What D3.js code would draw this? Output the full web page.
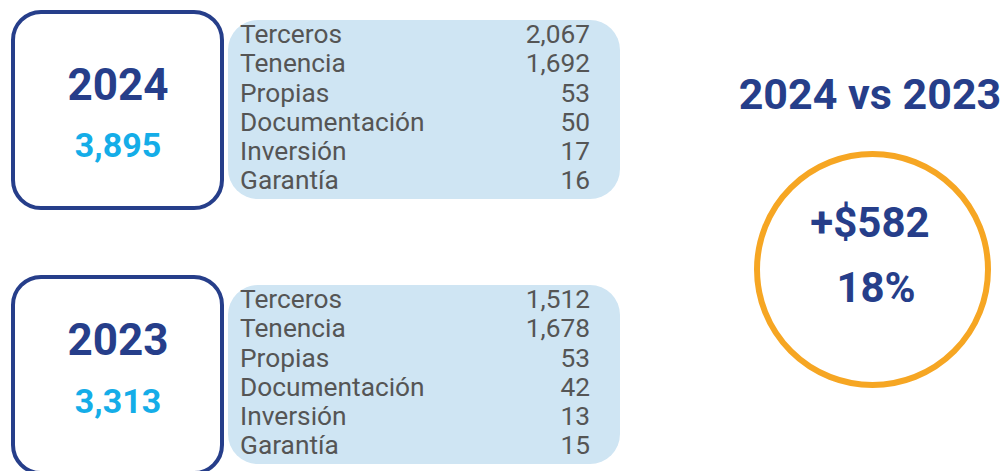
<!DOCTYPE html>
<html>
<head>
<meta charset="utf-8">
<script src="https://cdn.jsdelivr.net/npm/d3@7"></script>
<style>
  body { margin: 0; background: #fff; }
  svg { display: block; font-family: Roboto, "Noto Sans", sans-serif; }
</style>
</head>
<body>
<div class="chart"></div>
<script>
var svgWidth = 1003;
var svgHeight = 471;

// data
var categories = ["Terceros", "Tenencia", "Propias", "Documentación", "Inversión", "Garantía"];
var values2024 = [2067, 1692, 53, 50, 17, 16];
var values2023 = [1512, 1678, 53, 42, 13, 15];
var years = ["2024", "2023"];

var navy = "#263e8a";
var sky = "#14ade8";
var panelFill = "#cfe5f3";
var orange = "#f6a623";
var grey = "#555555";

var fmt = d3.format(",");

var svg = d3.select(".chart")
  .append("svg")
  .attr("width", svgWidth)
  .attr("height", svgHeight);

// one block per year: box with year + total, and a panel with the breakdown
var blocks = [
  { year: years[0], values: values2024, top: 10, yearBase: 100, totalBase: 157 },
  { year: years[1], values: values2023, top: 275, yearBase: 355, totalBase: 413 }
];

blocks.forEach(function (b) {
  var g = svg.append("g");

  // year box
  g.append("rect")
    .attr("x", 13)
    .attr("y", b.top + 2)
    .attr("width", 209)
    .attr("height", 196)
    .attr("rx", 28)
    .attr("fill", "#fff")
    .attr("stroke", navy)
    .attr("stroke-width", 4);

  g.append("text")
    .attr("x", 118)
    .attr("y", b.yearBase)
    .attr("text-anchor", "middle")
    .attr("font-size", "44px")
    .attr("font-weight", "bold")
    .attr("fill", navy)
    .text(b.year);

  g.append("text")
    .attr("x", 118)
    .attr("y", b.totalBase)
    .attr("text-anchor", "middle")
    .attr("font-size", "34px")
    .attr("font-weight", "bold")
    .attr("fill", sky)
    .text(fmt(d3.sum(b.values)));

  // breakdown panel
  var panelTop = b.top + 10;
  g.append("rect")
    .attr("x", 228)
    .attr("y", panelTop)
    .attr("width", 392)
    .attr("height", 179)
    .attr("rx", 30)
    .attr("fill", panelFill);

  var rowScale = d3.scaleBand()
    .domain(categories)
    .range([panelTop + 3, panelTop + 3 + 29.2 * categories.length]);

  var rows = g.selectAll(".row")
    .data(categories)
    .enter()
    .append("g")
    .attr("class", "row")
    .attr("transform", function (d) {
      return "translate(0," + (rowScale(d) + rowScale.bandwidth() - 9) + ")";
    });

  rows.append("text")
    .attr("x", 240)
    .attr("font-size", "26.3px")
    .attr("fill", grey)
    .text(function (d) { return d; });

  rows.append("text")
    .attr("x", 590)
    .attr("text-anchor", "end")
    .attr("font-size", "26.3px")
    .attr("fill", grey)
    .text(function (d, i) { return fmt(b.values[i]); });
});

// comparison
var total2024 = d3.sum(values2024);
var total2023 = d3.sum(values2023);
var diff = total2024 - total2023;
var pct = Math.round(diff / total2023 * 100);

svg.append("text")
  .attr("x", 870)
  .attr("y", 109)
  .attr("text-anchor", "middle")
  .attr("font-size", "43px")
  .attr("font-weight", "bold")
  .attr("fill", navy)
  .text(years[0] + " vs " + years[1]);

svg.append("circle")
  .attr("cx", 872.5)
  .attr("cy", 269.5)
  .attr("r", 115.5)
  .attr("fill", "none")
  .attr("stroke", orange)
  .attr("stroke-width", 6);

svg.append("text")
  .attr("x", 870)
  .attr("y", 237)
  .attr("text-anchor", "middle")
  .attr("font-size", "42px")
  .attr("font-weight", "bold")
  .attr("fill", navy)
  .text("+$" + fmt(diff));

svg.append("text")
  .attr("x", 876)
  .attr("y", 302)
  .attr("text-anchor", "middle")
  .attr("font-size", "42px")
  .attr("font-weight", "bold")
  .attr("fill", navy)
  .text(pct + "%");
</script>
</body>
</html>
